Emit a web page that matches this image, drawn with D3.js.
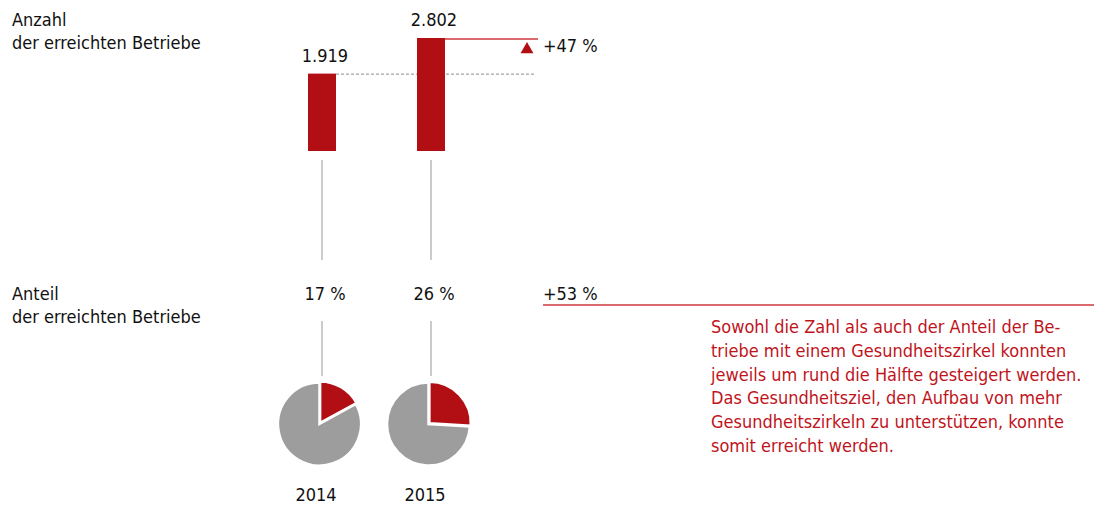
<!DOCTYPE html>
<html>
<head>
<meta charset="utf-8">
<script src="https://cdn.jsdelivr.net/npm/d3@7"></script>
<style>
  html, body { margin: 0; padding: 0; background: #fff; }
  svg text { font-family: "DejaVu Sans Condensed", "DejaVu Sans", sans-serif; }
</style>
</head>
<body>
<svg id="chart" width="1101" height="505"></svg>
<script>
// Betriebe mit Gesundheitszirkel, 2014 vs. 2015
const years = ["2014", "2015"];
const countValues = [1919, 2802];
const countLabels = ["1.919", "2.802"];
const shareValues = [17, 26];
const shareLabels = ["17 %", "26 %"];
const countChange = "+47 %";
const shareChange = "+53 %";
const rowTitleCount = ["Anzahl", "der erreichten Betriebe"];
const rowTitleShare = ["Anteil", "der erreichten Betriebe"];
const noteLines = [
  "Sowohl die Zahl als auch der Anteil der Be-",
  "triebe mit einem Gesundheitszirkel konnten",
  "jeweils um rund die Hälfte gesteigert werden.",
  "Das Gesundheitsziel, den Aufbau von mehr",
  "Gesundheitszirkeln zu unterstützen, konnte",
  "somit erreicht werden."
];

const RED = "#b10f14";
const TEXT_RED = "#c0141c";
const RULE_RED = "#cc3a3f";
const GREY = "#9d9d9d";
const LINE_GREY = "#a8a8a8";
const INK = "#111";
const FS = 18;

const svg = d3.select("#chart");

const x = d3.scalePoint().domain(years).range([322, 431]);
const barW = 28;
const y = d3.scaleLinear().domain([0, 2802]).range([151, 38]);

// row titles
function title(lines, x0, y0) {
  const t = svg.append("text").attr("x", x0).attr("y", y0)
    .attr("font-size", FS).attr("fill", INK);
  lines.forEach((l, i) => t.append("tspan").attr("x", x0).attr("dy", i ? 23 : 0).text(l));
}
title(rowTitleCount, 12, 26);
title(rowTitleShare, 12, 300);

// dashed reference at the 2014 level
svg.append("line")
  .attr("x1", x(years[0]) + barW / 2).attr("x2", 536)
  .attr("y1", y(countValues[0]) + 0.5).attr("y2", y(countValues[0]) + 0.5)
  .attr("stroke", "#8c8c8c").attr("stroke-width", 1)
  .attr("stroke-dasharray", "3,2");

// growth line at the 2015 level
svg.append("line")
  .attr("x1", x(years[1]) + barW / 2).attr("x2", 538)
  .attr("y1", y(countValues[1]) + 1).attr("y2", y(countValues[1]) + 1)
  .attr("stroke", RULE_RED).attr("stroke-width", 1.5);

// bars
svg.selectAll("rect.bar").data(countValues).join("rect")
  .attr("class", "bar")
  .attr("x", (d, i) => x(years[i]) - barW / 2)
  .attr("width", barW)
  .attr("y", d => y(d))
  .attr("height", d => y(0) - y(d))
  .attr("fill", RED);

// value labels over bars
svg.selectAll("text.val").data(countLabels).join("text")
  .attr("class", "val")
  .attr("x", (d, i) => x(years[i]) + 3)
  .attr("y", (d, i) => y(countValues[i]) - 12)
  .attr("text-anchor", "middle").attr("font-size", FS).attr("fill", INK)
  .text(d => d);

// up triangle + change
svg.append("path")
  .attr("d", d3.symbol(d3.symbolTriangle, 72)())
  .attr("transform", "translate(527,49.5)")
  .attr("fill", RED);
svg.append("text").attr("x", 543).attr("y", 52)
  .attr("font-size", FS).attr("fill", INK).text(countChange);

// connector lines
years.forEach(yr => {
  svg.append("line").attr("x1", x(yr)).attr("x2", x(yr))
    .attr("y1", 160).attr("y2", 260)
    .attr("stroke", LINE_GREY).attr("stroke-width", 1.2);
  svg.append("line").attr("x1", x(yr)).attr("x2", x(yr))
    .attr("y1", 321).attr("y2", 376)
    .attr("stroke", LINE_GREY).attr("stroke-width", 1.2);
});

// share labels
svg.selectAll("text.share").data(shareLabels).join("text")
  .attr("class", "share")
  .attr("x", (d, i) => x(years[i]) + 3)
  .attr("y", 300)
  .attr("text-anchor", "middle").attr("font-size", FS).attr("fill", INK)
  .text(d => d);

svg.append("text").attr("x", 543).attr("y", 300)
  .attr("font-size", FS).attr("fill", INK).text(shareChange);
svg.append("line").attr("x1", 543).attr("x2", 1094)
  .attr("y1", 305).attr("y2", 305)
  .attr("stroke", RULE_RED).attr("stroke-width", 1.5);

// pies: share slice nudged outward a little
const pie = d3.pie().sort(null).value(d => d);
const arc = d3.arc().innerRadius(0).outerRadius(41.5);
years.forEach((yr, i) => {
  const g = svg.append("g").attr("transform", `translate(${x(yr) - 2.5},424)`);
  g.selectAll("path").data(pie([shareValues[i], 100 - shareValues[i]])).join("path")
    .attr("d", arc)
    .attr("transform", (d, j) => {
      if (j !== 0) return null;
      const a = (d.startAngle + d.endAngle) / 2;
      return `translate(${Math.sin(a) * 1.2},${-Math.cos(a) * 1.2})`;
    })
    .attr("fill", (d, j) => j === 0 ? RED : GREY)
    .attr("stroke", "#fff").attr("stroke-width", 2.5).attr("stroke-linejoin", "miter");
  svg.append("text").attr("x", x(yr) - 6).attr("y", 501)
    .attr("text-anchor", "middle").attr("font-size", FS).attr("fill", INK).text(yr);
});

// note
const note = svg.append("text").attr("x", 711).attr("y", 333)
  .attr("font-size", FS).attr("fill", TEXT_RED);
noteLines.forEach((l, i) => note.append("tspan").attr("x", 711).attr("dy", i ? 23.8 : 0).text(l));
</script>
</body>
</html>
